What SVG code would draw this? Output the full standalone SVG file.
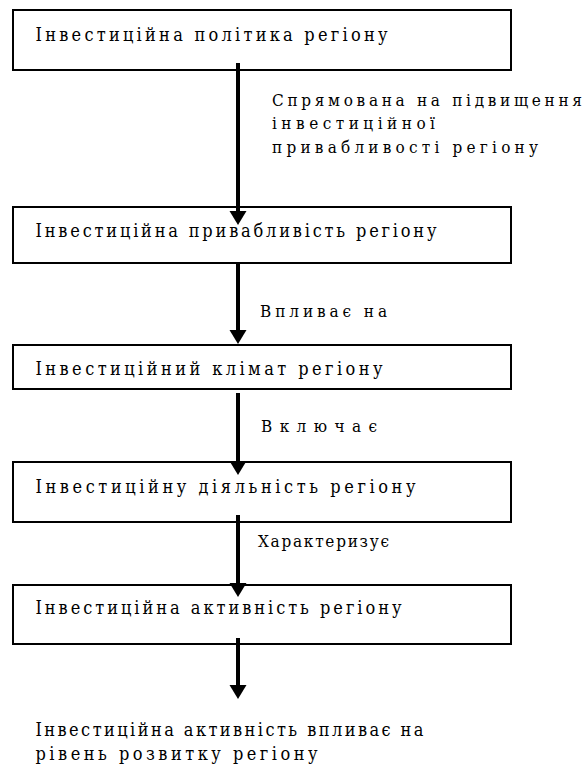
<svg xmlns="http://www.w3.org/2000/svg" width="582" height="767" viewBox="0 0 582 767">
<style>
.box{fill:#fff;stroke:#000;stroke-width:2}
.t{font-family:'DejaVu Serif Condensed','DejaVu Serif','Liberation Serif',serif;font-size:18px;fill:#000}
.lb{font-family:'DejaVu Serif Condensed','DejaVu Serif','Liberation Serif',serif;font-size:17px;fill:#000}
.arr{stroke:#000;stroke-width:4;fill:none;marker-end:url(#ah)}
</style>
<defs>
<marker id="ah" markerUnits="userSpaceOnUse" markerWidth="14" markerHeight="18" refX="4" refY="8.5" orient="auto" viewBox="0 0 14 17">
<path d="M0,0 L14,8.5 L0,17 z" fill="#000"/>
</marker>
</defs>
<g id="n1"><rect class="box" x="13" y="10" width="498" height="60"/><text class="t" x="35.5" y="41" textLength="352" lengthAdjust="spacing">Інвестиційна політика регіону</text></g>
<g id="n2"><rect class="box" x="13" y="207" width="498" height="56"/><text class="t" x="35.5" y="237" textLength="401" lengthAdjust="spacing">Інвестиційна привабливість регіону</text></g>
<g id="n3"><rect class="box" x="13" y="345" width="498" height="44"/><text class="t" x="35.5" y="375" textLength="347" lengthAdjust="spacing">Інвестиційний клімат регіону</text></g>
<g id="n4"><rect class="box" x="13" y="462" width="498" height="60"/><text class="t" x="35.5" y="493" textLength="380" lengthAdjust="spacing">Інвестиційну діяльність регіону</text></g>
<g id="n5"><rect class="box" x="13" y="585" width="498" height="59"/><text class="t" x="35.5" y="614" textLength="366" lengthAdjust="spacing">Інвестиційна активність регіону</text></g>
<g id="n6"><text class="t" x="35.5" y="736" textLength="388" lengthAdjust="spacing">Інвестиційна активність впливає на</text><text class="t" x="35.5" y="760" textLength="282" lengthAdjust="spacing">рівень розвитку регіону</text></g>
<g id="connectors">
<line class="arr" x1="238" y1="63" x2="238" y2="215"/>
<line class="arr" x1="238" y1="263" x2="238" y2="334"/>
<line class="arr" x1="238" y1="393" x2="238" y2="465"/>
<line class="arr" x1="238" y1="515" x2="238" y2="587"/>
<line class="arr" x1="238" y1="638" x2="238" y2="689"/>
</g>
<g id="labels">
<text class="lb" x="272" y="106" textLength="310" lengthAdjust="spacing">Спрямована на підвищення</text>
<text class="lb" x="272" y="129" textLength="163" lengthAdjust="spacing">інвестиційної</text>
<text class="lb" x="272" y="153" textLength="266" lengthAdjust="spacing">привабливості регіону</text>
<text class="lb" x="260" y="317" textLength="127" lengthAdjust="spacing">Впливає на</text>
<text class="lb" x="261" y="432" textLength="116" lengthAdjust="spacing">Включає</text>
<text class="lb" x="258" y="547" textLength="131" lengthAdjust="spacing">Характеризує</text>
</g>
</svg>
